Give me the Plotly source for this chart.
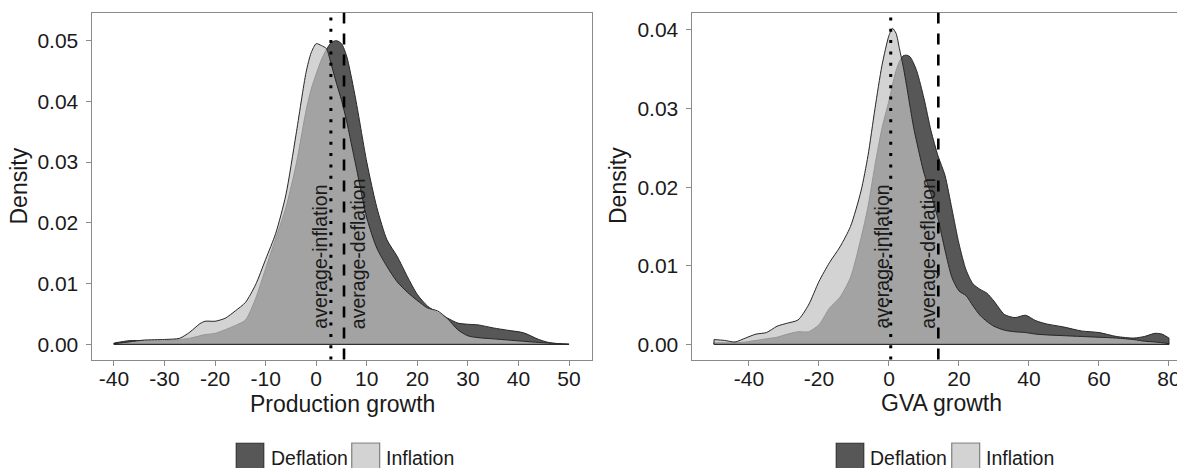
import plotly.graph_objects as go

# ---- Production growth densities ----
prod_x = [-40, -37, -34, -30, -27, -25, -23, -22, -20, -18, -16, -14, -12, -10, -8, -6, -4, -2, -1,
          0, 1, 2, 3, 4, 5, 6, 7, 8, 10, 12, 14, 16, 18, 20, 22, 24, 26, 28, 30, 32, 35, 38, 41,
          44, 46, 48, 50]
prod_deflation = [0.0002, 0.0006, 0.0006, 0.0006, 0.0008, 0.0010, 0.0014, 0.0016, 0.0018, 0.0024,
                  0.0031, 0.0040, 0.0075, 0.0125, 0.0175, 0.0225, 0.0295, 0.0385, 0.0420,
                  0.0445, 0.0468, 0.0485, 0.0497, 0.0500, 0.0495, 0.0475, 0.0438, 0.0395, 0.0300,
                  0.0225, 0.0172, 0.0145, 0.0112, 0.0082, 0.0063, 0.0052, 0.0043, 0.0035, 0.0033,
                  0.0032, 0.0027, 0.0023, 0.0019, 0.0008, 0.0003, 0.0001, 0.0000]
prod_inflation = [0.0001, 0.0004, 0.0007, 0.0008, 0.0010, 0.0020, 0.0034, 0.0038, 0.0038, 0.0043,
                  0.0055, 0.0069, 0.0098, 0.0140, 0.0183, 0.0246, 0.0345, 0.0448, 0.0480,
                  0.0495, 0.0492, 0.0487, 0.0460, 0.0430, 0.0402, 0.0368, 0.0328, 0.0288, 0.0208,
                  0.0158, 0.0128, 0.0103, 0.0086, 0.0072, 0.0060, 0.0055, 0.0042, 0.0024, 0.0014,
                  0.0011, 0.0009, 0.0007, 0.0005, 0.0003, 0.0002, 0.0001, 0.0000]
prod_mean_inflation = 2.9
prod_mean_deflation = 5.5

# ---- GVA growth densities ----
gva_x = [-50, -47, -44, -41, -38, -35, -32, -29, -26, -23, -20, -17, -14, -11, -8, -6, -4, -2,
         0, 1, 2, 3, 4, 5, 6, 7, 8, 10, 12, 14, 16, 18, 20, 22, 24, 26, 28, 30, 33, 36, 39, 42,
         45, 50, 55, 60, 65, 70, 73, 76, 78, 80]
gva_deflation = [0.0002, 0.0002, 0.0002, 0.0003, 0.0005, 0.0007, 0.0009, 0.0013, 0.0016, 0.0016,
                 0.0025, 0.0046, 0.0060, 0.0085, 0.0135, 0.0175, 0.0228, 0.0275,
                 0.0310, 0.0330, 0.0348, 0.0360, 0.0367, 0.0368, 0.0366, 0.0358, 0.0347, 0.0313,
                 0.0272, 0.0240, 0.0215, 0.0172, 0.0128, 0.0095, 0.0077, 0.0070, 0.0065, 0.0055,
                 0.0038, 0.0034, 0.0037, 0.0030, 0.0026, 0.0022, 0.0017, 0.0015, 0.0010, 0.0008,
                 0.0010, 0.0014, 0.0013, 0.0008]
gva_inflation = [0.0006, 0.0005, 0.0003, 0.0008, 0.0013, 0.0015, 0.0023, 0.0027, 0.0031, 0.0050,
                 0.0080, 0.0104, 0.0124, 0.0150, 0.0195, 0.0240, 0.0300, 0.0355,
                 0.0393, 0.0402, 0.0396, 0.0376, 0.0355, 0.0330, 0.0303, 0.0277, 0.0256, 0.0218,
                 0.0191, 0.0160, 0.0120, 0.0085, 0.0068, 0.0062, 0.0049, 0.0037, 0.0029, 0.0023,
                 0.0018, 0.0016, 0.0015, 0.0013, 0.0012, 0.0011, 0.0010, 0.0009, 0.0008, 0.0006,
                 0.0004, 0.0003, 0.0002, 0.0001]
gva_mean_inflation = 0.5
gva_mean_deflation = 14.1

# ---- axis ticks ----
prod_ticks = [-40, -30, -20, -10, 0, 10, 20, 30, 40, 50]
prod_ticktext = ["-40", "-30", "-20", "-10", "0", "10", "20", "30", "40", "50"]
gva_ticks = [-40, -20, 0, 20, 40, 60, 80]
gva_ticktext = ["-40", "-20", "0", "20", "40", "60", "80"]
prod_yticks = [0.00, 0.01, 0.02, 0.03, 0.04, 0.05]
gva_yticks = [0.00, 0.01, 0.02, 0.03, 0.04]

groups = ["Deflation", "Inflation"]

# ---- styling ----
W, H = 1177, 468
FONT = "Liberation Sans, Arial, sans-serif"
TXT = "#1a1a1a"
FRAME = "#8a8a8a"
OUTLINE = "#262626"
FILL = {"Deflation": "rgba(20,20,20,0.714)", "Inflation": "rgba(193,193,193,0.714)"}
KEY = {"Deflation": "#575757", "Inflation": "#d3d3d3"}


def fx(px):
    return px / W


def fy(py):
    return 1 - py / H


fig = go.Figure()


def density_area(xs, ys, name, xa, ya):
    # smooth filled curve down to zero, plus its baseline segment
    fig.add_trace(go.Scatter(
        x=xs, y=ys, mode="lines", fill="tozeroy", fillcolor=FILL[name],
        line=dict(color=OUTLINE, width=1, shape="spline", smoothing=0.7),
        name=name, showlegend=False, xaxis=xa, yaxis=ya, hoverinfo="skip",
    ))
    fig.add_trace(go.Scatter(
        x=[xs[0], xs[0], xs[-1], xs[-1]], y=[ys[0], 0, 0, ys[-1]], mode="lines",
        line=dict(color=OUTLINE, width=1), showlegend=False, xaxis=xa, yaxis=ya,
        hoverinfo="skip",
    ))


density_area(prod_x, prod_deflation, "Deflation", "x", "y")
density_area(prod_x, prod_inflation, "Inflation", "x", "y")
density_area(gva_x, gva_deflation, "Deflation", "x2", "y2")
density_area(gva_x, gva_inflation, "Inflation", "x2", "y2")

# mean lines
for xref, yref, m_inf, m_def in [("x", "y domain", prod_mean_inflation, prod_mean_deflation),
                                 ("x2", "y2 domain", gva_mean_inflation, gva_mean_deflation)]:
    fig.add_shape(type="line", xref=xref, yref=yref, x0=m_inf, x1=m_inf, y0=0, y1=1,
                  line=dict(color="black", width=3, dash="3px,8.3px"), layer="above")
    fig.add_shape(type="line", xref=xref, yref=yref, x0=m_def, x1=m_def, y0=0, y1=1,
                  line=dict(color="black", width=2.6, dash="11px,10px"), layer="above")

# rotated labels beside the mean lines
ann = []
for xref, yref, x_inf, x_def, ybot in [("x", "y", prod_mean_inflation - 2.2, prod_mean_deflation + 2.9, 0.0022),
                                       ("x2", "y2", gva_mean_inflation - 2.6, gva_mean_deflation - 2.9, 0.0017)]:
    ann.append(dict(xref=xref, yref=yref, x=x_inf, y=ybot, text="average-inflation",
                    textangle=-90, xanchor="center", yanchor="bottom", showarrow=False,
                    font=dict(family=FONT, size=19.5, color=TXT)))
    ann.append(dict(xref=xref, yref=yref, x=x_def, y=ybot, text="average-deflation",
                    textangle=-90, xanchor="center", yanchor="bottom", showarrow=False,
                    font=dict(family=FONT, size=19.5, color=TXT)))

# axis titles
for text, x, y, ang in [("Production growth", 342, 404, 0), ("GVA growth", 941.7, 403, 0),
                        ("Density", 18.5, 186, -90), ("Density", 618, 186, -90)]:
    ann.append(dict(xref="paper", yref="paper", x=fx(x), y=fy(y), text=text, textangle=ang,
                    xanchor="center", yanchor="middle", showarrow=False,
                    font=dict(family=FONT, size=23, color=TXT)))

# legends below each panel
for keys in [(236, 268.5, 351.7, 384), (836, 867.5, 951.7, 984)]:
    for i, name in enumerate(groups):
        kx = keys[2 * i]
        tx = keys[2 * i + 1]
        fig.add_shape(type="rect", xref="paper", yref="paper",
                      x0=fx(kx), x1=fx(kx + 28), y0=fy(443), y1=fy(471),
                      fillcolor=KEY[name], line=dict(color="rgba(0,0,0,0.45)", width=1.2))
        ann.append(dict(xref="paper", yref="paper", x=fx(tx), y=fy(458), text=name,
                        xanchor="left", yanchor="middle", showarrow=False,
                        font=dict(family=FONT, size=19.5, color=TXT)))

axis_common = dict(showline=True, linecolor=FRAME, linewidth=1.4, ticks="outside", ticklen=5,
                   tickwidth=1.2, tickcolor=FRAME, showgrid=False, zeroline=False,
                   automargin=False, tickfont=dict(family=FONT, size=21, color=TXT))

ytop, ybot = fy(12.7), fy(359.5)
fig.update_layout(
    width=W, height=H, autosize=False,
    margin=dict(l=0, r=0, t=0, b=0, pad=0, autoexpand=False),
    paper_bgcolor="white", plot_bgcolor="white", showlegend=False,
    font=dict(family=FONT, color=TXT),
    xaxis=dict(domain=[fx(91.7), fx(592.3)], range=[-44.4, 54.6], tickvals=prod_ticks,
               ticktext=prod_ticktext, mirror=True, anchor="y", ticklabelstandoff=-5,
               **axis_common),
    yaxis=dict(domain=[ybot, ytop], range=[-0.0025, 0.0546], tickvals=prod_yticks,
               tickformat=".2f", mirror=True, anchor="x", ticklabelstandoff=3, **axis_common),
    xaxis2=dict(domain=[fx(691.7), 1.0], range=[-56.37, 82.3], tickvals=gva_ticks,
                ticktext=gva_ticktext, mirror=True, anchor="y2", ticklabelstandoff=-5,
                ticklabeloverflow="allow", **axis_common),
    yaxis2=dict(domain=[ybot, ytop], range=[-0.00193, 0.0422], tickvals=gva_yticks,
                tickformat=".2f", mirror=False, anchor="x2", ticklabelstandoff=3, **axis_common),
    annotations=ann,
)

fig.write_html("out.html", config={"responsive": False})
